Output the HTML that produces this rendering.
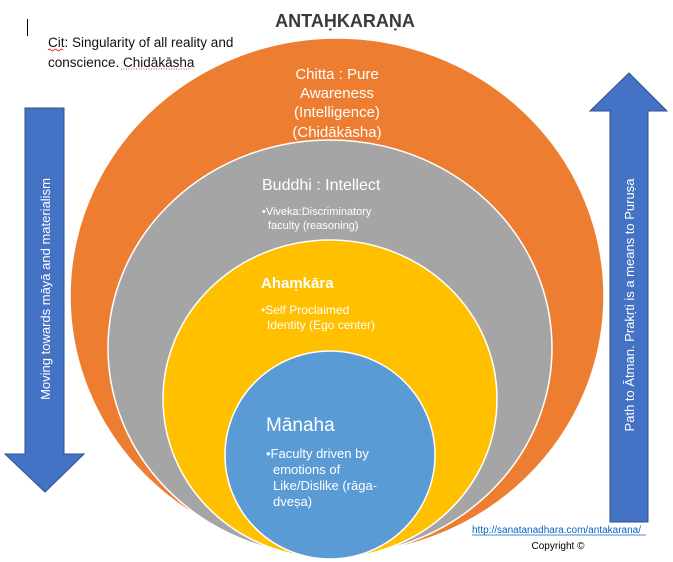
<!DOCTYPE html>
<html><head><meta charset="utf-8"><style>
html,body{margin:0;padding:0;background:#fff;width:673px;height:562px;overflow:hidden}
text{font-family:"Liberation Sans","DejaVu Sans",sans-serif}
</style></head><body>
<svg width="673" height="562" viewBox="0 0 673 562" xmlns="http://www.w3.org/2000/svg">
<rect width="673" height="562" fill="#fff"/>
<line x1="27.5" y1="19" x2="27.5" y2="36" stroke="#000" stroke-width="1"/>
<text x="345" y="27" text-anchor="middle" font-size="18" font-weight="bold" fill="#3a3a3a">ANTAḤKARAṆA</text>
<text x="48" y="47" font-size="13.5" fill="#111">Cit: Singularity of all reality and</text>
<text x="48" y="67" font-size="13.5" fill="#111">conscience. Chidākāsha</text>
<path d="M48 50 q1.5 -2 3 0 t3 0 t3 0 t3 0 t3 0" stroke="#d00" fill="none" stroke-width="0.8"/>
<line x1="121" y1="69" x2="190" y2="69" stroke="#d00" stroke-width="0.8" stroke-dasharray="1,1.5"/>

<ellipse cx="337" cy="296" rx="267" ry="258" fill="#ed7d31" stroke="#fff" stroke-width="1.5"/>
<ellipse cx="330" cy="348" rx="222" ry="208" fill="#a5a5a5" stroke="#fff" stroke-width="1.5"/>
<ellipse cx="330" cy="399" rx="167" ry="159" fill="#ffc000" stroke="#fff" stroke-width="1.5"/>
<ellipse cx="330" cy="455" rx="105" ry="104" fill="#5b9bd5" stroke="#fff" stroke-width="1.5"/>

<g fill="#fff" text-anchor="middle" font-size="15">
<text x="337" y="79">Chitta : Pure</text>
<text x="337" y="98">Awareness</text>
<text x="337" y="117">(Intelligence)</text>
<text x="337" y="137">(Chidākāsha)</text>
</g>
<text x="262" y="190" font-size="16" fill="#fff">Buddhi : Intellect</text>
<text x="262" y="215" font-size="11" fill="#fff">•Viveka:Discriminatory</text>
<text x="268" y="229" font-size="11" fill="#fff">faculty (reasoning)</text>
<text x="261" y="288" font-size="15" font-weight="bold" fill="#fff">Ahaṃkāra</text>
<text x="261" y="314" font-size="12" fill="#fff">•Self Proclaimed</text>
<text x="267" y="329" font-size="12" fill="#fff">Identity (Ego center)</text>
<text x="266" y="431" font-size="19" fill="#fff">Mānaha</text>
<g font-size="13" fill="#fff">
<text x="266" y="458">•Faculty driven by</text>
<text x="273" y="474">emotions of</text>
<text x="273" y="490">Like/Dislike (rāga-</text>
<text x="273" y="506">dveṣa)</text>
</g>

<polygon points="25,108 64,108 64,454 84,454 45,492 5,454 25,454" fill="#4472c4" stroke="#2f528f" stroke-width="1"/>
<polygon points="610,522 648,522 648,111 667,111 629,73 590,111 610,111" fill="#4472c4" stroke="#2f528f" stroke-width="1"/>
<text transform="translate(50,289) rotate(-90)" text-anchor="middle" font-size="13" fill="#fff">Moving towards māyā and materialism</text>
<text transform="translate(634,305) rotate(-90)" text-anchor="middle" font-size="13" fill="#fff">Path to Ātman. Prakṛti is a means to Puruṣa</text>

<text x="472" y="533" font-size="10" fill="#0563c1">http://sanatanadhara.com/antakarana/</text>
<line x1="472" y1="535" x2="646" y2="535" stroke="#0563c1" stroke-width="0.8"/>
<text x="558" y="549" text-anchor="middle" font-size="10" fill="#000">Copyright ©</text>
</svg>
</body></html>
